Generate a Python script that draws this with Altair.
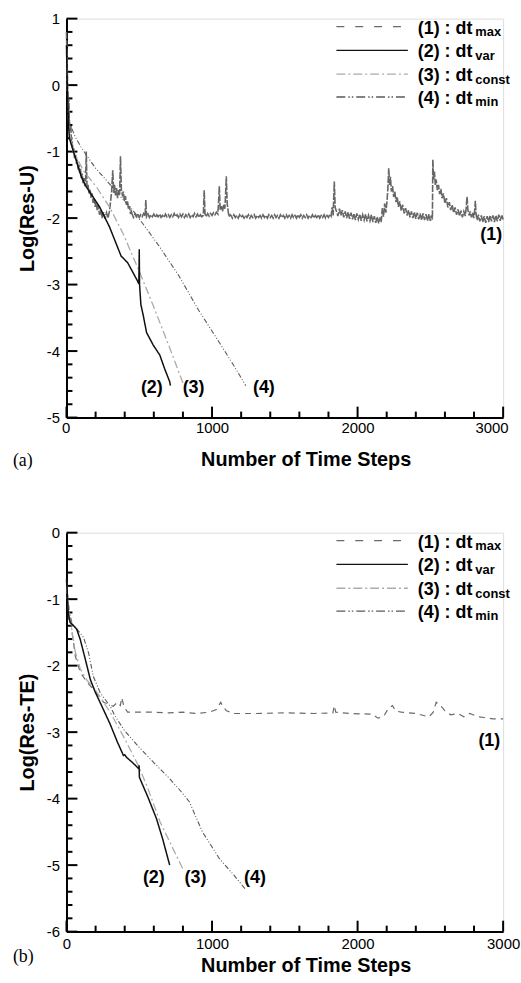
import altair as alt
import pandas as pd

FONT = "Liberation Sans"
SERIF = "Liberation Serif"

# ---------------- panel (a): Log(Res-U) ----------------
A1 = [(0,0.8),(4,0.4),(8,0.0),(12,-0.3),(16,-0.2),(20,-0.55),(25,-0.7),(30,-0.62),(35,-0.9),(40,-0.85),(45,-1.02),(50,-0.95),(55,-1.1),(62,-1.05),(68,-1.18),(74,-1.12),(80,-1.28),(86,-1.2),(91,-1.32),(96,-1.26),(102,-1.4),(108,-1.33),(114,-1.48),(120,-1.4),(126,-1.52),(131,-1.45),(136,-1.0),(141,-1.55),(148,-1.5),(155,-1.63),(162,-1.57),(169,-1.7),(176,-1.63),(183,-1.77),(190,-1.7),(197,-1.83),(204,-1.76),(211,-1.88),(218,-1.8),(227,-1.95),(235,-1.88),(245,-2.0),(255,-1.91),(265,-2.01),(275,-1.92),(285,-2.0),(295,-1.9),(303,-1.75),(310,-1.6),(318,-1.28),(324,-1.62),(330,-1.5),(337,-1.66),(344,-1.55),(351,-1.7),(358,-1.58),(365,-1.65),(371,-1.07),(377,-1.58),(384,-1.65),(391,-1.6),(398,-1.74),(405,-1.67),(412,-1.8),(419,-1.74),(426,-1.87),(433,-1.82),(440,-1.94),(446,-1.88),
      (450,-1.93),(460,-1.99),(470,-1.94),(480,-1.98),(490,-1.93),(500,-1.99),(510,-1.95),(520,-1.98),(530,-1.93),(540,-1.97),(545,-1.73),(550,-1.98),(560,-1.94),(570,-1.99),(580,-1.95),(590,-1.98),(600,-1.94),(610,-1.99),(620,-1.95),(630,-1.98),(640,-1.94),(650,-1.99),(660,-1.96),(670,-1.99),(680,-1.94),(690,-1.98),(700,-1.95),(710,-1.99),(720,-1.95),(730,-1.98),(740,-1.93),(750,-1.98),(760,-1.95),(770,-1.99),(780,-1.94),(790,-1.98),(800,-1.94),(810,-1.99),(820,-1.95),(830,-1.98),(840,-1.94),(850,-1.99),(860,-1.95),(870,-1.98),(880,-1.93),(890,-1.98),(900,-1.94),(910,-1.99),(920,-1.95),(930,-1.98),(940,-1.96),(946,-1.58),(952,-1.94),(960,-1.98),(970,-1.93),(980,-1.97),(990,-1.93),(1000,-1.96),(1010,-1.92),(1020,-1.95),(1030,-1.91),(1040,-1.94),(1045,-1.75),(1050,-1.52),(1056,-1.88),(1064,-1.82),(1072,-1.9),(1080,-1.8),(1088,-1.86),(1092,-1.7),(1098,-1.37),(1104,-1.78),(1110,-1.88),(1116,-1.98),(1125,-1.95),
      (1130,-1.96),(1140,-2.0),(1150,-1.95),(1160,-1.99),(1170,-1.96),(1180,-2.0),(1190,-1.95),(1200,-1.99),(1210,-1.96),(1220,-2.0),(1230,-1.96),(1240,-1.99),(1250,-1.95),(1260,-2.0),(1270,-1.96),(1280,-1.99),(1290,-1.95),(1300,-2.0),(1310,-1.96),(1320,-1.99),(1330,-1.96),(1340,-2.0),(1350,-1.95),(1360,-1.99),(1370,-1.96),(1380,-2.0),(1390,-1.95),(1400,-1.99),(1410,-1.96),(1420,-2.0),(1430,-1.95),(1440,-1.99),(1450,-1.96),(1460,-2.0),(1470,-1.95),(1480,-1.99),(1490,-1.96),(1500,-2.0),(1510,-1.95),(1520,-1.99),(1530,-1.96),(1540,-2.0),(1550,-1.95),(1560,-1.99),(1570,-1.96),(1580,-2.0),(1590,-1.95),(1600,-1.99),(1610,-1.95),(1620,-2.0),(1630,-1.96),(1640,-1.99),(1650,-1.95),(1660,-2.0),(1670,-1.96),(1680,-1.99),(1690,-1.95),(1700,-2.0),(1710,-1.96),(1720,-1.99),(1730,-1.95),(1740,-2.0),(1750,-1.96),(1760,-1.99),(1770,-1.95),(1780,-2.0),(1790,-1.96),(1800,-1.99),(1810,-1.94),(1818,-1.97),(1825,-1.84),(1832,-1.96),(1840,-1.45),(1846,-1.84),
      (1855,-1.9),(1865,-1.97),(1875,-1.86),(1885,-1.96),(1895,-1.88),(1905,-1.99),(1915,-1.9),(1925,-2.0),(1935,-1.91),(1945,-2.01),(1955,-1.92),(1965,-2.02),(1975,-1.93),(1985,-2.03),(1995,-1.93),(2005,-2.02),(2015,-1.94),(2025,-2.04),(2035,-1.95),(2045,-2.03),(2055,-1.94),(2065,-2.05),(2075,-1.96),(2085,-2.04),(2095,-1.95),(2105,-2.06),(2115,-1.97),(2125,-2.07),(2135,-1.98),(2145,-2.08),(2155,-1.99),(2162,-2.06),(2170,-1.85),(2178,-1.98),(2186,-1.78),(2194,-1.92),(2202,-1.75),(2208,-1.55),(2214,-1.25),(2220,-1.5),(2226,-1.38),(2232,-1.6),(2240,-1.52),(2248,-1.68),(2256,-1.6),(2264,-1.76),(2272,-1.68),(2280,-1.83),(2290,-1.75),(2300,-1.89),(2310,-1.8),(2320,-1.93),(2330,-1.85),(2340,-1.96),(2350,-1.88),(2360,-1.99),(2370,-1.9),(2380,-2.0),(2390,-1.91),(2400,-2.01),(2410,-1.92),(2420,-2.02),(2430,-1.93),(2440,-2.03),(2450,-1.93),(2460,-2.03),(2470,-1.94),(2480,-2.04),(2490,-1.94),(2500,-2.04),(2508,-1.96),(2514,-2.02),(2517,-1.12),(2522,-1.42),(2528,-1.3),(2534,-1.5),(2540,-1.42),(2548,-1.58),(2556,-1.5),(2564,-1.64),(2572,-1.56),(2580,-1.7),(2590,-1.63),(2600,-1.78),(2610,-1.7),(2620,-1.84),(2630,-1.76),(2640,-1.88),(2650,-1.8),(2660,-1.92),(2670,-1.84),(2680,-1.95),(2690,-1.87),(2700,-1.97),(2710,-1.89),(2720,-1.99),(2730,-1.9),(2740,-1.97),(2746,-1.85),(2752,-1.68),(2758,-1.88),(2766,-1.96),(2774,-1.9),(2782,-1.99),(2790,-1.92),(2798,-2.0),(2804,-1.9),(2809,-1.74),(2814,-1.95),(2822,-2.03),(2830,-1.95),(2840,-2.05),(2850,-1.96),(2860,-2.06),(2870,-1.97),(2880,-2.07),(2890,-1.97),(2900,-2.06),(2910,-1.96),(2920,-2.05),(2930,-1.96),(2940,-2.06),(2950,-1.96),(2960,-2.05),(2970,-1.95),(2980,-2.04),(2990,-1.95),(3000,-2.02)]
A2 = [(0,0.6),(6,-0.1),(14,-0.6),(20,-0.8),(45,-0.98),(102,-1.38),(136,-1.53),(227,-1.83),(295,-2.13),(375,-2.57),(420,-2.67),(489,-2.95),(497,-2.99),(500,-2.47),(502,-3.0),(511,-3.3),(527,-3.46),(550,-3.72),(596,-3.91),(641,-4.06),(675,-4.27),(709,-4.46),(714,-4.52)]
A3 = [(0,0.5),(6,-0.1),(14,-0.55),(25,-0.75),(45,-0.98),(114,-1.28),(205,-1.53),(295,-1.83),(386,-2.22),(500,-2.8),(602,-3.35),(700,-3.9),(800,-4.48)]
A4 = [(0,0.5),(6,0.0),(15,-0.45),(23,-0.58),(60,-0.78),(100,-0.93),(136,-1.05),(200,-1.25),(273,-1.43),(360,-1.65),(455,-1.88),(540,-2.13),(636,-2.42),(773,-2.87),(909,-3.39),(1050,-3.87),(1150,-4.22),(1232,-4.52)]
A_LABELS = [("(1)", 2918, -2.25), ("(2)", 586, -4.55), ("(3)", 873, -4.55), ("(4)", 1356, -4.55)]

# ---------------- panel (b): Log(Res-TE) ----------------
B1 = [(0,-0.75),(8,-1.0),(15,-1.3),(27,-1.27),(39,-1.51),(61,-1.86),(95,-2.1),(141,-2.25),(186,-2.36),(255,-2.55),(321,-2.61),(350,-2.55),(370,-2.6),(380,-2.48),(395,-2.62),(420,-2.7),(500,-2.7),(600,-2.7),(700,-2.71),(800,-2.7),(900,-2.72),(980,-2.7),(1030,-2.66),(1060,-2.55),(1075,-2.62),(1100,-2.68),(1150,-2.72),(1300,-2.72),(1500,-2.71),(1700,-2.72),(1830,-2.71),(1840,-2.6),(1850,-2.7),(1950,-2.72),(2100,-2.73),(2140,-2.79),(2180,-2.76),(2210,-2.65),(2240,-2.6),(2260,-2.68),(2300,-2.7),(2400,-2.72),(2490,-2.77),(2520,-2.7),(2540,-2.55),(2570,-2.6),(2600,-2.68),(2640,-2.74),(2690,-2.72),(2730,-2.77),(2770,-2.72),(2830,-2.77),(2870,-2.78),(2930,-2.8),(3000,-2.8)]
B2 = [(0,-0.7),(5,-0.9),(12,-1.2),(25,-1.35),(45,-1.39),(70,-1.45),(95,-1.61),(130,-1.91),(164,-2.21),(198,-2.4),(243,-2.61),(300,-2.88),(350,-3.15),(391,-3.35),(400,-3.34),(413,-3.38),(450,-3.45),(497,-3.55),(499,-3.5),(501,-3.68),(560,-3.98),(618,-4.3),(660,-4.6),(709,-5.0)]
B3 = [(0,-0.8),(6,-1.0),(15,-1.2),(27,-1.3),(39,-1.5),(61,-1.8),(95,-2.05),(141,-2.22),(186,-2.33),(255,-2.55),(300,-2.7),(400,-3.1),(493,-3.5),(560,-3.85),(641,-4.34),(720,-4.7),(798,-5.05)]
B4 = [(0,-0.7),(8,-0.95),(20,-1.2),(40,-1.38),(61,-1.42),(90,-1.5),(116,-1.57),(152,-1.81),(184,-2.16),(232,-2.41),(300,-2.61),(334,-2.76),(400,-2.98),(500,-3.23),(618,-3.5),(709,-3.7),(790,-3.9),(845,-4.05),(934,-4.5),(1050,-4.9),(1150,-5.15),(1232,-5.37)]
B_LABELS = [("(1)", 2905, -3.13), ("(2)", 600, -5.19), ("(3)", 886, -5.19), ("(4)", 1295, -5.19)]

# ---------------- legend / ticks ----------------
LEGEND_MAIN = ["(1) : dt", "(2) : dt", "(3) : dt", "(4) : dt"]
LEGEND_SUB = ["max", "var", "const", "min"]

X_MAJOR = [0, 1000, 2000, 3000]
X_MINOR = [200, 400, 600, 800, 1200, 1400, 1600, 1800, 2200, 2400, 2600, 2800]
YA_MAJOR = [-5, -4, -3, -2, -1, 0, 1]
YA_MINOR = [-4.8, -4.6, -4.4, -4.2, -3.8, -3.6, -3.4, -3.2, -2.8, -2.6, -2.4, -2.2,
            -1.8, -1.6, -1.4, -1.2, -0.8, -0.6, -0.4, -0.2, 0.2, 0.4, 0.6, 0.8]
YB_MAJOR = [-6, -5, -4, -3, -2, -1, 0]
YB_MINOR = [-5.8, -5.6, -5.4, -5.2, -4.8, -4.6, -4.4, -4.2, -3.8, -3.6, -3.4, -3.2,
            -2.8, -2.6, -2.4, -2.2, -1.8, -1.6, -1.4, -1.2, -0.8, -0.6, -0.4, -0.2]

# styles (not data)
STYLES = [
    dict(color="#6a6a6a", strokeDash=[6, 3], strokeWidth=1.3),
    dict(color="#111111", strokeDash=[1, 0], strokeWidth=1.5),
    dict(color="#ababab", strokeDash=[8, 3, 2, 3], strokeWidth=1.3),
    dict(color="#5a5a5a", strokeDash=[5, 2, 1, 2, 1, 2], strokeWidth=1.1),
]
LEG_DASH = [[8, 11], [1, 0], [9, 3, 2, 3], [9, 3, 1.5, 2, 1.5, 3]]
W, H = 440, 402
ROW_Y = [8, 32, 56, 79]


def to_df(pairs):
    return pd.DataFrame({"i": range(len(pairs)),
                         "s": [p[0] for p in pairs],
                         "v": [p[1] for p in pairs]})


def panel(curves, dom, ymaj, ymin, ytitle, labels, tag, tag_y, xlab_pad, xtit_pad,
          style1, flush):
    xaxis_kw = dict(title="Number of Time Steps", values=X_MAJOR, ticks=False,
                    grid=False, domainColor="black", domainWidth=2,
                    labelFont=FONT, labelFontSize=15, labelColor="black",
                    labelPadding=xlab_pad, labelExpr="'' + datum.value",
                    titleFont=FONT, titleFontSize=20, titleFontWeight="bold",
                    titleColor="black", titlePadding=xtit_pad, titleX=241,
                    labelFlush=flush)
    if flush:
        xaxis_kw["labelFlushOffset"] = 5
    X = alt.X("s:Q", scale=alt.Scale(domain=[0, 3000], nice=False, zero=False),
              axis=alt.Axis(**xaxis_kw))
    Y = alt.Y("v:Q", scale=alt.Scale(domain=dom, nice=False, zero=False),
              axis=alt.Axis(title=ytitle, values=ymaj, ticks=False, grid=False,
                            domainColor="black", domainWidth=2,
                            labelFont=FONT, labelFontSize=15, labelColor="black",
                            labelPadding=7, labelExpr="'' + datum.value",
                            titleFont=FONT, titleFontSize=20, titleFontWeight="bold",
                            titleColor="black", titlePadding=9))
    layers = []
    # ticks drawn inward
    layers.append(alt.Chart(pd.DataFrame({"v": ymaj})).mark_rule(color="black", strokeWidth=2)
                  .encode(y=Y, x=alt.value(0), x2=alt.value(11)))
    layers.append(alt.Chart(pd.DataFrame({"v": ymin})).mark_rule(color="black", strokeWidth=2)
                  .encode(y=Y, x=alt.value(0), x2=alt.value(6)))
    layers.append(alt.Chart(pd.DataFrame({"s": X_MAJOR})).mark_rule(color="black", strokeWidth=2)
                  .encode(x=X, y=alt.value(H), y2=alt.value(H - 11)))
    layers.append(alt.Chart(pd.DataFrame({"s": X_MINOR})).mark_rule(color="black", strokeWidth=2)
                  .encode(x=X, y=alt.value(H), y2=alt.value(H - 6)))
    # curves
    for k in [0, 3, 2, 1]:
        st = style1 if k == 0 else STYLES[k]
        layers.append(alt.Chart(to_df(curves[k])).mark_line(**st)
                      .encode(x=X, y=Y, order="i:Q"))
    # curve labels
    lab = pd.DataFrame({"t": [l[0] for l in labels], "s": [l[1] for l in labels],
                        "v": [l[2] for l in labels]})
    layers.append(alt.Chart(lab).mark_text(font=FONT, fontSize=18, fontWeight="bold",
                                           color="black", baseline="middle", align="center")
                  .encode(x=X, y=Y, text="t:N"))
    # legend
    for k in range(4):
        layers.append(alt.Chart(pd.DataFrame({"k": [k]})).mark_rule(
            color=STYLES[k]["color"], strokeDash=LEG_DASH[k], strokeWidth=1.3)
            .encode(x=alt.value(272), x2=alt.value(344), y=alt.value(ROW_Y[k])))
    leg = pd.DataFrame({"main": LEGEND_MAIN, "sub": LEGEND_SUB,
                        "ym": [r + 7 for r in ROW_Y], "ys": [r + 9.5 for r in ROW_Y]})
    layers.append(alt.Chart(leg).mark_text(font=FONT, fontSize=18, fontWeight="bold",
                                           color="black", align="left", baseline="alphabetic")
                  .encode(text="main:N", x=alt.value(354),
                          y=alt.Y("ym:Q", scale=None)))
    layers.append(alt.Chart(leg).mark_text(font=FONT, fontSize=13, fontWeight="bold",
                                           color="black", align="left", baseline="alphabetic")
                  .encode(text="sub:N", x=alt.value(412),
                          y=alt.Y("ys:Q", scale=None)))
    # panel tag
    layers.append(alt.Chart(pd.DataFrame({"t": [tag]})).mark_text(
        font=SERIF, fontSize=18, color="black", align="left", baseline="middle")
        .encode(text="t:N", x=alt.value(-54), y=alt.value(tag_y)))
    return alt.layer(*layers).properties(width=W, height=H)


pa = panel([A1, A2, A3, A4], [-5, 1], YA_MAJOR, YA_MINOR, "Log(Res-U)", A_LABELS,
           "(a)", 446, 3, 14, dict(color="#666666", strokeDash=[7, 1.5], strokeWidth=1.6), True)
pb = panel([B1, B2, B3, B4], [-6, 0], YB_MAJOR, YB_MINOR, "Log(Res-TE)", B_LABELS,
           "(b)", 428, 5, 4, dict(color="#6a6a6a", strokeDash=[6, 5], strokeWidth=1.2), False)

chart = (alt.vconcat(pa, pb, spacing=116, bounds="flush")
         .properties(padding={"left": 12, "top": 7, "right": 0, "bottom": 0})
         .configure_view(stroke=None)
         .configure(background="white"))

chart.save("out.html", embed_options={"renderer": "svg", "actions": False})
